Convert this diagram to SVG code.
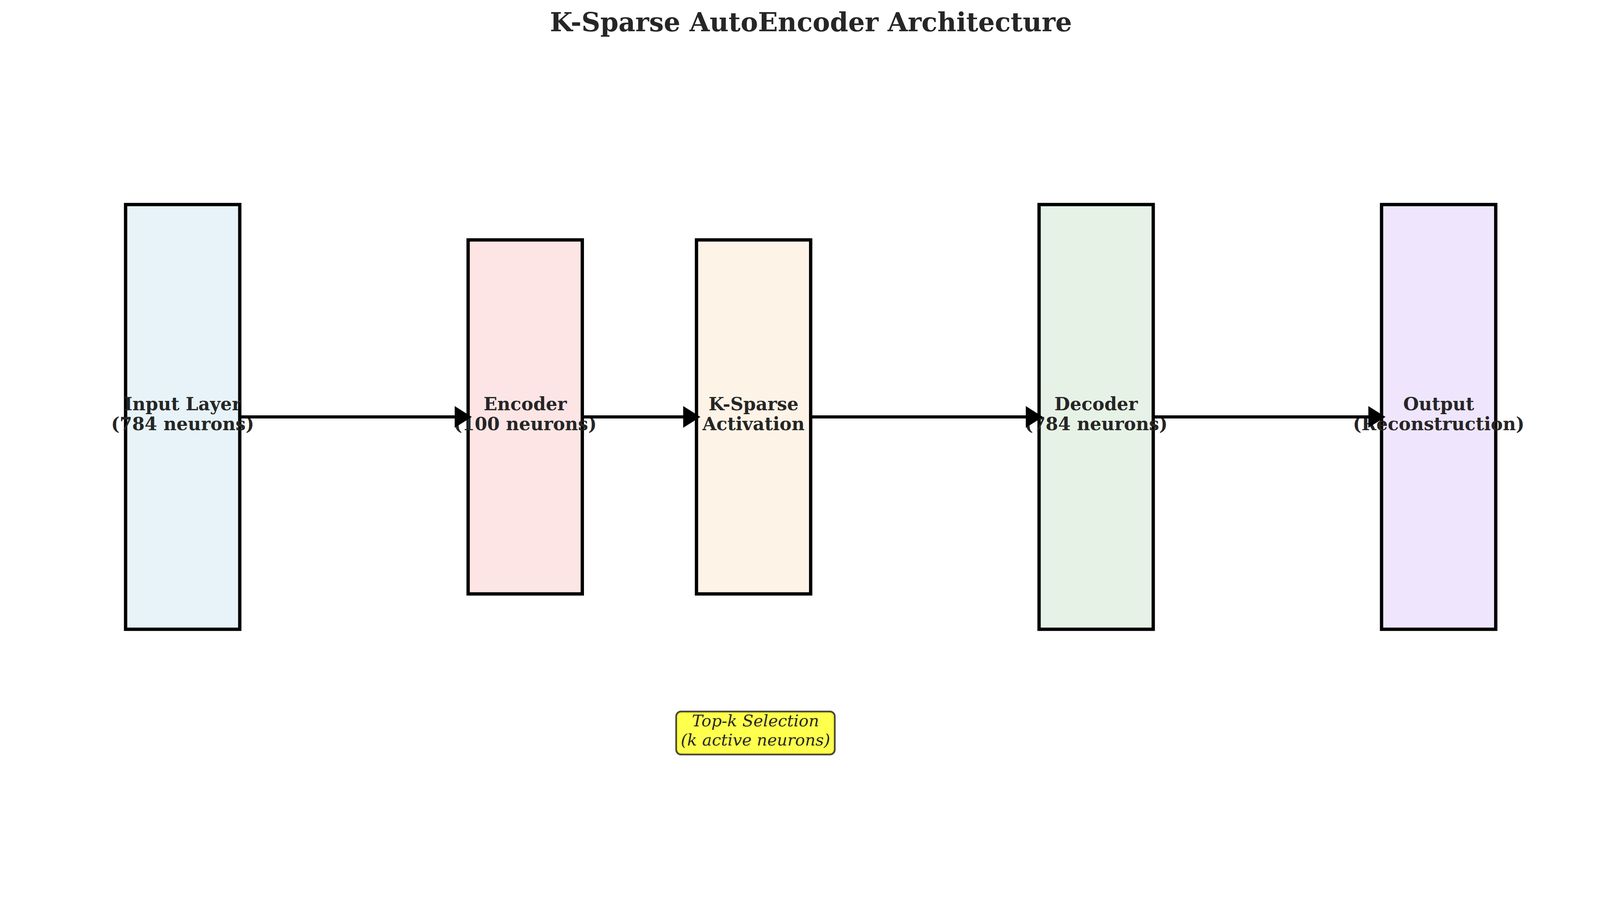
<svg xmlns="http://www.w3.org/2000/svg" width="4152" height="2352" viewBox="0 0 4152 2352">
<style>
.box{stroke:#000;stroke-width:8.5}
.lbl{font-family:"DejaVu Serif","Liberation Serif",serif;font-weight:bold;font-size:46px;fill:#262626;text-anchor:middle}
.title{font-family:"DejaVu Serif","Liberation Serif",serif;font-weight:bold;font-size:66.7px;fill:#262626;text-anchor:middle}
.note{font-family:"DejaVu Serif","Liberation Serif",serif;font-style:italic;font-size:41.7px;fill:#262626;text-anchor:middle}
.conn line{stroke:#000;stroke-width:8}
.conn polygon{fill:#000;stroke:#000;stroke-width:2;stroke-linejoin:miter}
</style>
<rect width="4152" height="2352" fill="#fff"/>
<text id="title" class="title" x="2076" y="80">K-Sparse AutoEncoder Architecture</text>
<g id="input">
<rect class="box" x="321.5" y="523.5" width="292.3" height="1087" fill="#e7f3f8"/>
<text class="lbl" x="467.6" y="1050">Input Layer</text>
<text class="lbl" x="467.6" y="1101">(784 neurons)</text>
</g>
<g id="encoder">
<rect class="box" x="1198.4" y="614" width="292.3" height="906" fill="#fde5e5"/>
<text class="lbl" x="1344.5" y="1050">Encoder</text>
<text class="lbl" x="1344.5" y="1101">(100 neurons)</text>
</g>
<g id="ksparse">
<rect class="box" x="1783" y="614" width="292.3" height="906" fill="#fef3e7"/>
<text class="lbl" x="1929.1" y="1050">K-Sparse</text>
<text class="lbl" x="1929.1" y="1101">Activation</text>
</g>
<g id="decoder">
<rect class="box" x="2660" y="523.5" width="292.3" height="1087" fill="#e7f2e6"/>
<text class="lbl" x="2806.1" y="1050">Decoder</text>
<text class="lbl" x="2806.1" y="1101">(784 neurons)</text>
</g>
<g id="output">
<rect class="box" x="3536.8" y="523.5" width="292.3" height="1087" fill="#efe5fd"/>
<text class="lbl" x="3683" y="1050">Output</text>
<text class="lbl" x="3683" y="1101">(Reconstruction)</text>
</g>
<g id="connectors" class="conn">
<line x1="613.8" y1="1067" x2="1166" y2="1067"/>
<polygon points="1206,1067 1165,1041 1165,1093"/>
<line x1="1490.7" y1="1067" x2="1751" y2="1067"/>
<polygon points="1791,1067 1750,1041 1750,1093"/>
<line x1="2075.3" y1="1067" x2="2628" y2="1067"/>
<polygon points="2668,1067 2627,1041 2627,1093"/>
<line x1="2952.3" y1="1067" x2="3505" y2="1067"/>
<polygon points="3545,1067 3504,1041 3504,1093"/>
</g>
<g id="topk-note">
<rect x="1731" y="1821" width="406" height="110" rx="12.5" ry="12.5" fill="#ffff4d" stroke="#000" stroke-opacity="0.7" stroke-width="4.5"/>
<text class="note" x="1934" y="1859">Top-k Selection</text>
<text class="note" x="1934" y="1908">(k active neurons)</text>
</g>
</svg>
